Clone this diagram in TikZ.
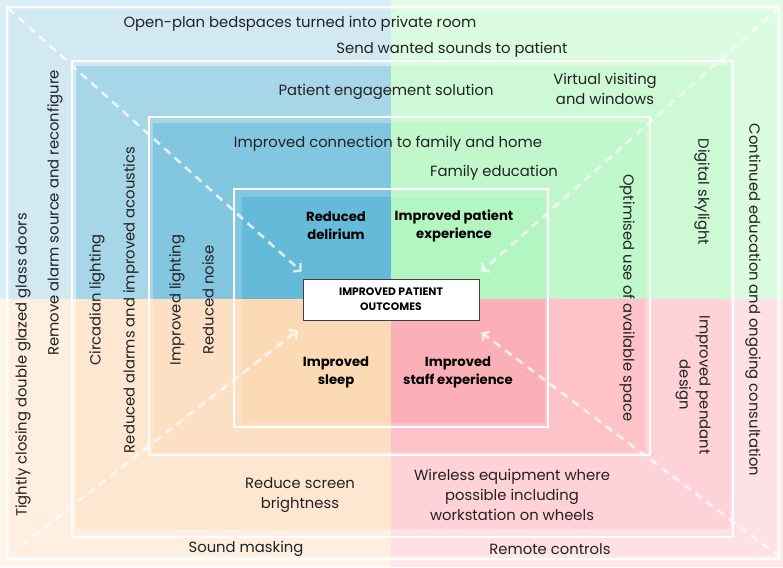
\documentclass[tikz,border=0pt]{standalone}
\usepackage{fontspec}
\setmainfont{Poppins}
\usetikzlibrary{arrows.meta}

% quadrant colours, level 0 (outside) to level 4 (centre)
\definecolor{tlq0}{RGB}{219,238,247}
\definecolor{tlq1}{RGB}{210,233,244}
\definecolor{tlq2}{RGB}{168,214,233}
\definecolor{tlq3}{RGB}{131,198,224}
\definecolor{tlq4}{RGB}{101,185,217}
\definecolor{trq0}{RGB}{228,253,231}
\definecolor{trq1}{RGB}{219,252,224}
\definecolor{trq2}{RGB}{205,250,213}
\definecolor{trq3}{RGB}{192,248,203}
\definecolor{trq4}{RGB}{180,246,194}
\definecolor{blq0}{RGB}{254,244,234}
\definecolor{blq1}{RGB}{254,239,224}
\definecolor{blq2}{RGB}{253,231,209}
\definecolor{blq3}{RGB}{253,224,196}
\definecolor{blq4}{RGB}{252,218,181}
\definecolor{brq0}{RGB}{254,232,235}
\definecolor{brq1}{RGB}{254,225,228}
\definecolor{brq2}{RGB}{254,210,214}
\definecolor{brq3}{RGB}{253,195,200}
\definecolor{brq4}{RGB}{251,176,184}
\definecolor{txt}{RGB}{34,34,34}

\begin{document}
\begin{tikzpicture}[x=1pt, y=-1pt,
    lbl/.style={text=txt, align=center, inner sep=0pt, font=\fontsize{14.8}{20}\selectfont},
    res/.style={text=black, align=center, inner sep=0pt, font=\bfseries\fontsize{13.2}{18}\selectfont},
    frame/.style={draw=white, line width=2.2pt},
    flow/.style={draw=white, draw opacity=0.75, line width=2.6pt, dash pattern=on 8pt off 6pt,
      -{Straight Barb[length=5pt, width=11pt, line width=2.4pt]}}]
  \useasboundingbox (0,0) rectangle (783,567);

  % four quadrants, one fill per level
  \foreach \l/\xa/\ya/\xb/\yb in {0/0/0/783/567, 1/10/10/776/555, 2/76/66/730/529, 3/153/123/645/452, 4/242/197/545/423} {
    \fill[tlq\l] (\xa,\ya) rectangle (391,299);
    \fill[trq\l] (391,\ya) rectangle (\xb,299);
    \fill[blq\l] (\xa,299) rectangle (391,\yb);
    \fill[brq\l] (391,299) rectangle (\xb,\yb);
  }

  % white frames
  \draw[frame] (7,7) rectangle (779,559);
  \draw[frame] (72,61) rectangle (733,537);
  \draw[frame] (149,117) rectangle (650,455);
  \draw[frame] (234,189) rectangle (548,427);

  \node[draw=black!75, line width=0.6pt, fill=white, minimum width=176pt, minimum height=41pt, inner sep=0pt,
    align=center, font=\bfseries\fontsize{10.8}{15}\selectfont] (out) at (391,299.5) {IMPROVED PATIENT\\OUTCOMES};

  \coordinate (ctl) at (8,8);
  \coordinate (ctr) at (779,8);
  \coordinate (cbl) at (22,545);
  \coordinate (cbr) at (780,557);
  \draw[flow] (ctl) -- ([shift={(-1,-7)}]out.north west);
  \draw[flow] (ctr) -- ([shift={(2,-7)}]out.north east);
  \draw[flow] (cbl) -- ([shift={(-5,10)}]out.south west);
  \draw[flow] (cbr) -- ([shift={(2,12)}]out.south east);

  % top
  \node[lbl] (open) at (300,24) {Open-plan bedspaces turned into private room};
  \node[lbl] (send) at (452,50) {Send wanted sounds to patient};
  \node[lbl] (engage) at (386,92) {Patient engagement solution};
  \node[lbl] (virtual) at (605,89) {Virtual visiting\\and windows};
  \node[lbl] (connect) at (388,144) {Improved connection to family and home};
  \node[lbl] (family) at (494,173) {Family education};

  % left
  \node[lbl, rotate=90] (doors) at (23,365) {Tightly closing double glazed glass doors};
  \node[lbl, rotate=90] (alarm) at (55,213) {Remove alarm source and reconfigure};
  \node[lbl, rotate=90] (circ) at (97,300) {Circadian lighting};
  \node[lbl, rotate=90] (acoust) at (131,300) {Reduced alarms and improved acoustics};
  \node[lbl, rotate=90] (light) at (177,300) {Improved lighting};
  \node[lbl, rotate=90] (noise) at (208,300) {Reduced noise};

  % right
  \node[lbl, rotate=-90] (space) at (627,298) {Optimised use of available space};
  \node[lbl, rotate=-90] (sky) at (702,192) {Digital skylight};
  \node[lbl, rotate=-90] (consult) at (753,300) {Continued education and ongoing consultation};
  \node[lbl, rotate=-90] (pendant) at (693,385) {Improved pendant\\design};

  % bottom
  \node[lbl] (screen) at (300,495) {Reduce screen\\brightness};
  \node[lbl] (wireless) at (512,495) {Wireless equipment where\\possible including\\workstation on wheels};
  \node[lbl] (mask) at (246,549) {Sound masking};
  \node[lbl] (remote) at (550,549) {Remote controls};

  % outcomes
  \node[res] (delir) at (336,226) {Reduced\\delirium};
  \node[res] (pexp) at (454,226) {Improved patient\\experience};
  \node[res] (sleep) at (336,372.5) {Improved\\sleep};
  \node[res] (sexp) at (458,372.5) {Improved\\staff experience};
\end{tikzpicture}
\end{document}
